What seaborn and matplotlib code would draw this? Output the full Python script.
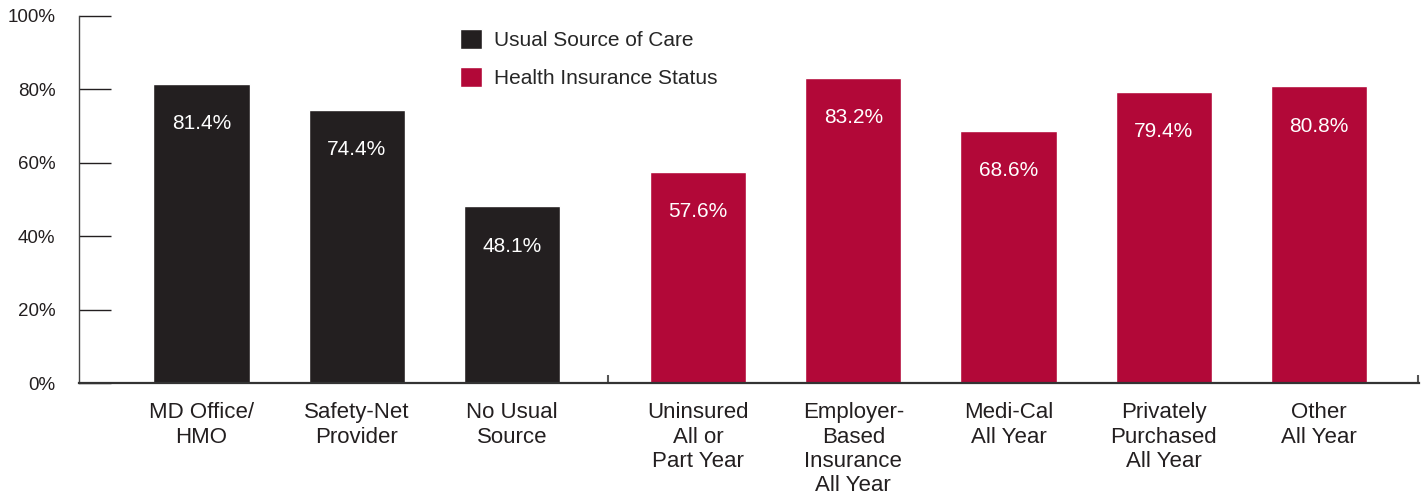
import matplotlib
matplotlib.use("Agg")
import matplotlib.pyplot as plt
import seaborn as sns
import pandas as pd
from matplotlib.ticker import FixedLocator

# ---- data ----
categories = ["MD Office/\nHMO", "Safety-Net\nProvider", "No Usual\nSource",
              "Uninsured\nAll or\nPart Year", "Employer-\nBased\nInsurance\nAll Year",
              "Medi-Cal\nAll Year", "Privately\nPurchased\nAll Year", "Other\nAll Year"]
values = [81.4, 74.4, 48.1, 57.6, 83.2, 68.6, 79.4, 80.8]
groups = ["Usual Source of Care"] * 3 + ["Health Insurance Status"] * 5
yticks = [0, 20, 40, 60, 80, 100]
ytick_labels = ["0%", "20%", "40%", "60%", "80%", "100%"]

# ---- layout (not data) ----
positions = [0, 1, 2, 3.2, 4.2, 5.2, 6.2, 7.2]
palette = {"Usual Source of Care": "#231f20", "Health Insurance Status": "#b20838"}

sns.set_style("white")
plt.rcParams["font.family"] = ["Liberation Sans Narrow", "Liberation Sans", "DejaVu Sans"]

df = pd.DataFrame({"pos": positions, "value": values, "group": groups})

fig = plt.figure(figsize=(14.24, 4.97), dpi=100)
ax = fig.add_axes([79 / 1424, 1 - 383 / 497, 1340 / 1424, 367 / 497])

sns.barplot(data=df, x="pos", y="value", hue="group", palette=palette,
            native_scale=True, dodge=False, width=0.62, ax=ax, saturation=1,
            hue_order=["Usual Source of Care", "Health Insurance Status"])

ax.set_xlim(-0.79, 7.845)
ax.set_ylim(0, 100)
ax.set_xlabel("")
ax.set_ylabel("")

# value labels
for p, v in zip(positions, values):
    ax.annotate(f"{v:.1f}%", (p, v), xytext=(0, -28.5), textcoords="offset points",
                ha="center", va="center", color="white", fontsize=15)

# y axis
ax.set_yticks(yticks)
ax.set_yticklabels(ytick_labels, fontsize=13.5, color="#231f20")
ax.tick_params(axis="y", which="major", left=True, direction="in", length=23,
               width=1.0, color="#231f20", pad=17)

# x axis
ax.set_xticks(positions)
ax.set_xticklabels(categories, fontsize=16, color="#231f20", linespacing=1.2)
ax.tick_params(axis="x", which="major", bottom=True, length=0, pad=14)
ax.xaxis.set_minor_locator(FixedLocator([2.62, 7.84]))
ax.tick_params(axis="x", which="minor", bottom=True, direction="in", length=6,
               width=1.5, color="#555555")

for s in ["top", "right"]:
    ax.spines[s].set_visible(False)
ax.spines["left"].set_color("#444444")
ax.spines["left"].set_linewidth(1.0)
ax.spines["bottom"].set_color("#333333")
ax.spines["bottom"].set_linewidth(1.6)

# legend
handles, labels = ax.get_legend_handles_labels()
if ax.get_legend() is not None:
    ax.get_legend().remove()
ax.legend(handles, labels, loc="upper left", bbox_to_anchor=(0.284, 0.965),
          frameon=False, fontsize=15, handlelength=1.1, handleheight=1.1,
          handletextpad=0.55, labelspacing=0.8, borderpad=0, borderaxespad=0)

fig.savefig("out.png", dpi=100)
